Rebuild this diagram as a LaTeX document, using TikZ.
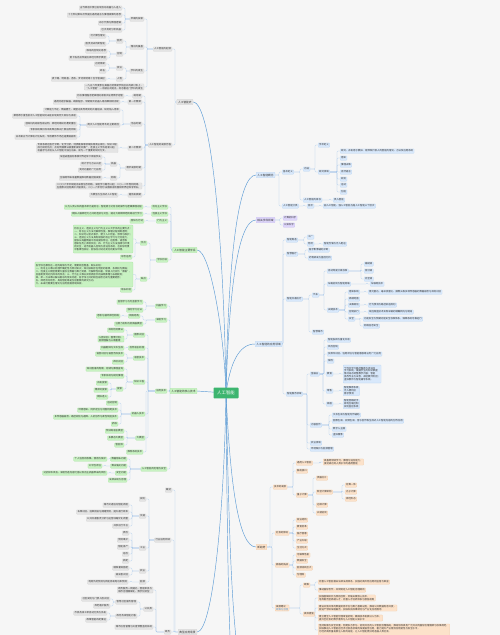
\documentclass[tikz,border=0pt]{standalone}
\usepackage{fontspec}
\setmainfont{Noto Sans CJK SC}

\definecolor{bgc}{HTML}{F6F6F6}
\definecolor{txt}{HTML}{333333}
\definecolor{gfill}{HTML}{E4E4E4}
\definecolor{gdraw}{HTML}{CDCDCD}
\definecolor{nfill}{HTML}{C8F2C2}
\definecolor{ndraw}{HTML}{A3E29C}
\definecolor{bfill}{HTML}{D8E8FB}
\definecolor{bdraw}{HTML}{B3D1F2}
\definecolor{pfill}{HTML}{DDD5FA}
\definecolor{pdraw}{HTML}{C2B5F0}
\definecolor{ofill}{HTML}{FCE2CA}
\definecolor{odraw}{HTML}{F3C79E}
\definecolor{hubc}{HTML}{3DB56F}
\definecolor{lnk}{HTML}{A8C8EC}
\definecolor{crv}{HTML}{5B9BD5}

\newcommand\ft{\fontsize{2.4}{2.95}\selectfont}
\newcommand\fl{\fontsize{2.7}{3.2}\selectfont}
\newcommand\fh{\fontsize{4.4}{5}\selectfont}

\pgfdeclarelayer{bg}
\pgfsetlayers{bg,main}

% left links: children sit to the left of the parent
\newcommand\lk[2]{\foreach \nd in {#2}{\draw[link] (\nd.east) -- ++(3,0) |- (#1.west);}}
% right links: children sit to the right of the parent
\newcommand\rk[2]{\foreach \nd in {#2}{\draw[link] (\nd.west) -- ++(-3,0) |- (#1.east);}}

\begin{document}
\begin{tikzpicture}[x=1pt,y=-1pt,
		box/.style={rectangle, rounded corners=0.6pt, inner xsep=1pt, inner ysep=0.5pt,
			minimum height=4.3pt, font=\ft, text=txt, line width=0.2pt, align=left},
		lg/.style={box, anchor=east, fill=gfill, draw=gdraw},
		ln/.style={box, anchor=east, fill=nfill, draw=ndraw},
		rb/.style={box, anchor=west, fill=bfill, draw=bdraw},
		rp/.style={box, anchor=west, fill=pfill, draw=pdraw},
		ro/.style={box, anchor=west, fill=ofill, draw=odraw},
		lvone/.style={font=\fl, minimum height=5.4pt, inner xsep=1.3pt},
		hub/.style={rectangle, rounded corners=0.8pt, fill=hubc, text=white, font=\fh,
			minimum width=25pt, minimum height=10pt},
		link/.style={draw=lnk, line width=0.3pt, rounded corners=1pt},
		curve/.style={draw=crv, line width=0.45pt}
		]
		\useasboundingbox (0,0) rectangle (500,635);
		\begin{pgfonlayer}{bg}
			\fill[bgc] (0,0) rectangle (500,635);
		\end{pgfonlayer}
		
		% centre
		\node[hub] (ai) at (226,393) {人工智能};
		% branches that run on below the page
		\coordinate (more1) at (256,700);
		\coordinate (more2) at (256,780);
		
		% ---------- history (grey, upper left)
		\node[lg,lvone] (a) at (193,102) {人工智能史};
		\node[lg] (a1) at (172,49) {人工智能的起源};
		\node[lg] (a1a) at (144,19) {早期的探索};
		\node[lg] (a1a1) at (122,8) {古代神话中便已出现自动机器与人造人};
		\node[lg] (a1a2) at (122,15) {十七世纪莱布尼茨提出通用语言与推理演算的思想};
		\node[lg] (a1a3) at (122,23) {布尔代数与数理逻辑};
		\node[lg] (a1a4) at (122,30) {巴贝奇的分析机器};
		\node[lg] (a1b) at (144,47) {理论的奠基};
		\node[lg] (a1b1) at (123,41) {图灵};
		\node[lg] (a1b1a) at (106,36) {可计算性理论};
		\node[lg] (a1b1b) at (106,44) {图灵测试判断智能};
		\node[lg] (a1b2) at (123,54) {控制};
		\node[lg] (a1b2a) at (107,51) {维纳的控制论思想};
		\node[lg] (a1b2b) at (107,58) {麦卡洛克皮茨提出神经元数学模型};
		\node[lg] (a1c) at (144,71) {学科的诞生};
		\node[lg] (a1c1) at (123,68) {会议};
		\node[lg] (a1c1a) at (106,64) {达特茅斯};
		\node[lg] (a1c1b) at (106,71) {命名};
		\node[lg] (a1c2) at (123,79) {人物};
		\node[lg] (a1c2a) at (106,79) {麦卡锡、明斯基、香农、罗切斯特等十位学者发起};
		\node[lg] (a1d) at (144,87) {一九五六年夏季在美国达特茅斯学院召开的研讨会上，\\“人工智能”一词被正式提出，标志着这门学科的诞生};
		
		\node[lg] (a2) at (172,145) {人工智能的发展历程};
		\node[lg] (a2a) at (142,96) {萌芽期};
		\node[lg] (a2a1) at (124,96) {符号推理程序逻辑理论家首次证明数学定理};
		\node[lg] (a2b) at (142,102) {第一次繁荣};
		\node[lg] (a2b1) at (120,102) {通用问题求解器、跳棋程序、早期聊天机器人等成果相继出现};
		\node[lg] (a2c) at (142,124) {低谷时期};
		\node[lg] (a2c1) at (120,110) {计算能力不足、数据匮乏、期望过高导致资助大幅削减，研究陷入停滞};
		\node[lg] (a2c2) at (120,125) {两次人工智能寒冬的主要原因};
		\node[lg] (a2c2a) at (77,116) {莱特希尔报告批评人工智能研究未能实现其宏大目标与承诺};
		\node[lg] (a2c2b) at (77,124) {感知机的局限性被证明，神经网络研究遭受重创};
		\node[lg] (a2c2c) at (77,130) {专家系统维护成本高昂且难以扩展应用领域};
		\node[lg] (a2c2d) at (77,137) {日本第五代计算机计划失败，专用硬件市场迅速萎缩崩溃};
		\node[lg] (a2d) at (142,148) {第二次繁荣};
		\node[lg] (a2d1) at (118,148) {专家系统在医疗诊断、化学分析、地质勘探等领域获得商业成功，知识工程\\成为研究热点；反向传播算法被重新发现并推广，连接主义学派逐渐兴起，\\机器学习开始从人工智能中独立出来，成为一个重要的研究分支。};
		\node[lg] (a2e) at (142,168) {稳步发展时期};
		\node[lg] (a2e1) at (117,164) {机器};
		\node[lg] (a2e1a) at (102,157) {深蓝战胜国际象棋世界冠军卡斯帕罗夫};
		\node[lg] (a2e1b) at (102,164) {统计学习方法兴起};
		\node[lg] (a2e1c) at (102,170) {支持向量机广泛应用};
		\node[lg] (a2e2) at (117,178) {网络};
		\node[lg] (a2e2a) at (102,178) {互联网带来海量数据推动数据挖掘发展};
		\node[lg] (a2f) at (142,186) {二〇〇六年辛顿提出深度信念网络，深度学习概念兴起；二〇一二年卷积网络\\在图像识别竞赛中大幅领先，二〇一六年阿尔法围棋击败围棋世界冠军李世石。};
		\node[lg] (a2g) at (142,195) {蓬勃发展期};
		\node[lg] (a2g1) at (118,195) {大模型与生成式人工智能};
		
		% ---------- schools (green)
		\node[ln,lvone] (b) at (197,250) {人工智能主要学派};
		\node[ln] (b1) at (168,207) {符号主义学派};
		\node[ln] (b1a) at (143,207) {认为人类认知的基本单元是符号，智能源于对符号的操作与逻辑推理过程};
		\node[ln] (b2) at (168,214) {连接主义学派};
		\node[ln] (b2a) at (143,214) {模拟人脑神经元之间的连接与交互，通过大规模神经网络进行学习};
		\node[ln] (b3) at (168,221) {行为主义};
		\node[ln] (b3a) at (144,221) {感知与行动};
		\node[ln] (b4) at (168,260) {学派比较};
		\node[ln] (b4a) at (147,243) {优点};
		\node[ln, minimum height=28pt] (b4a1) at (133,239) {符号主义、连接主义与行为主义三大学派的主要优点：\\一、符号主义方法可解释性强，推理过程清晰透明；\\二、知识可以显式表示，便于人工检查、修改与维护；\\三、连接主义方法具有很强的自主学习与泛化能力，\\能够从海量数据中自动提取特征，在图像、语音等\\感知任务上表现突出；四、行为主义方法强调与环境\\的交互，适合机器人控制与自适应系统，在实际场景\\中鲁棒性较好，能够应对动态变化的复杂环境。};
		\node[ln] (b4a2) at (132,257) {综合运用};
		\node[ln] (b4b) at (147,279) {缺点};
		\node[ln, minimum height=25pt] (b4b1) at (133,274.5) {各学派也都存在一定的局限与不足，需要相互借鉴、取长补短：\\一、符号主义难以处理不确定性与常识知识，知识获取存在明显的瓶颈，系统较为脆弱；\\二、连接主义模型需要大量标注数据与算力资源，可解释性较差，常被人们视为“黑箱”，\\且容易受到对抗样本的攻击；三、行为主义难以实现高层次的抽象推理与长期规划；\\四、单一方法难以解决复杂的现实问题，各学派之间的相互融合已成为重要趋势；\\五、神经符号结合、具身智能等是当前重要的研究方向。\\六、未来仍需要在理论与应用层面持续探索。};
		\node[ln] (b4b2) at (132,290) {取长补短};
		
		% ---------- core techniques (green)
		\node[ln,lvone] (c) at (197,391) {人工智能的核心技术};
		\node[ln] (c1) at (167,306) {机器学习};
		\node[ln] (c1a) at (143,302) {监督学习与无监督学习};
		\node[ln] (c1b) at (143,310) {强化学习方法};
		\node[ln] (c2) at (167,320) {深度学习};
		\node[ln] (c2a) at (140,316) {网络结构};
		\node[ln] (c2a1) at (120,316) {卷积与循环神经网络};
		\node[ln] (c2b) at (143,324) {注意力机制与变换器模型};
		\node[ln] (c3) at (167,391) {应用技术};
		\node[ln] (c3a) at (145,335) {图像识别};
		\node[ln] (c3a1) at (124,330) {目标检测算法};
		\node[ln] (c3a2) at (124,339) {人脸识别、图像分割、\\视频理解与三维重建};
		\node[ln] (c3b) at (145,348) {自然语言处理};
		\node[ln] (c3b1) at (124,348) {机器翻译与文本生成};
		\node[ln] (c3c) at (145,358) {语音技术};
		\node[ln] (c3c1) at (124,354) {语音识别与语音合成技术};
		\node[ln] (c3c2) at (124,362) {声纹识别};
		\node[ln] (c3d) at (145,382) {知识工程};
		\node[ln] (c3d1) at (124,369) {知识图谱的构建、存储与推理查询};
		\node[ln] (c3d2) at (124,376) {专家系统与规则推理};
		\node[ln] (c3d3) at (123,389) {搜索};
		\node[ln] (c3d3a) at (108,383) {启发搜索};
		\node[ln] (c3d3b) at (108,390) {博弈树搜索};
		\node[ln] (c3d3c) at (108,397) {模拟退火};
		\node[ln] (c3e) at (145,414) {机器人技术};
		\node[ln] (c3e1) at (118,403) {运动控制};
		\node[ln] (c3e2) at (118,410) {环境感知、同步定位与地图构建技术};
		\node[ln] (c3e3) at (118,417) {多传感器融合、路径规划与避障、人机协作与柔性制造技术};
		\node[ln] (c3e4) at (118,424) {抓取};
		\node[ln] (c3f) at (145,438) {大模型};
		\node[ln] (c3f1) at (124,431) {预训练语言模型};
		\node[ln] (c3f2) at (124,438) {多模态大模型};
		\node[ln] (c3f3) at (124,445) {智能体};
		\node[ln] (c3g) at (143,452) {推荐系统技术};
		\node[ln] (c4) at (167,469) {人工智能的伦理与安全};
		\node[ln] (c4a) at (127,459) {数据隐私问题};
		\node[ln] (c4a1) at (107,459) {个人信息的收集、使用与保护};
		\node[ln] (c4b) at (127,466) {算法偏见问题};
		\node[ln] (c4b1) at (102,466) {公平性评估};
		\node[ln] (c4c) at (127,473) {安全问题};
		\node[ln] (c4c1) at (107,473) {对抗样本攻击、深度伪造内容泛滥以及自主武器带来的风险};
		\node[ln] (c4d) at (127,480) {法律法规与治理};
		
		% ---------- applications (grey, lower left)
		\node[lg,lvone] (d) at (197,632) {典型应用场景};
		\node[lg] (d1) at (172,490) {概述};
		\node[lg] (d2) at (171,540) {行业应用领域};
		\node[lg] (d2a) at (146,499) {安防};
		\node[lg] (d2b) at (146,516) {交通};
		\node[lg] (d2b1) at (129,505) {城市交通信号智能调度};
		\node[lg] (d2b2) at (129,512) {车牌识别、违章抓拍与拥堵预测，提升通行效率};
		\node[lg] (d2b3) at (129,519) {公共交通客流分析与运营线路优化调整};
		\node[lg] (d2b4) at (129,526) {共享出行平台};
		\node[lg] (d2c) at (146,548) {工业};
		\node[lg] (d2c1) at (129,533) {质检};
		\node[lg] (d2c2) at (129,540) {预测维护};
		\node[lg] (d2c3) at (129,547) {智能排产};
		\node[lg] (d2c4) at (129,554) {巡检};
		\node[lg] (d2c5) at (129,561) {装配};
		\node[lg] (d2d) at (146,571) {农业};
		\node[lg] (d2d1) at (129,568) {精准灌溉施肥};
		\node[lg] (d2d2) at (129,575) {病虫害识别};
		\node[lg] (d2e) at (146,582) {能源};
		\node[lg] (d2e1) at (128,582) {电网负荷预测与新能源发电功率预测};
		\node[lg] (d3) at (171,632) {政务};
		\node[lg] (d3a) at (153,590) {政务服务一网通办，智能审批与\\城市治理精细化、数字化转型};
		\node[lg] (d3b) at (153,609) {公共类};
		\node[lg] (d3b1) at (137,602) {智慧社区服务管理};
		\node[lg] (d3b1a) at (110,599) {社区安防与门禁人脸识别};
		\node[lg] (d3b1b) at (110,606) {养老看护服务};
		\node[lg] (d3b2) at (137,616) {政务热线智能问答};
		\node[lg] (d3b2a) at (107,613) {市民热线工单自动分类与派发};
		\node[lg] (d3b2b) at (107,620) {政策智能匹配推送};
		\node[lg] (d3c) at (153,627) {城市应急管理与灾害预警监测系统};
		
		% ---------- concept (blue, upper right)
		\node[rb,lvone] (e) at (256,175) {人工智能概念};
		\node[rb] (e1) at (282,172) {基本定义};
		\node[rb] (e1a) at (303,169) {内涵};
		\node[rb] (e1a1) at (318,145) {学术定义};
		\node[rb] (e1a2) at (318,172) {研究领域};
		\node[rb] (e1a2a) at (340,151) {研究、开发用于模拟、延伸和扩展人的智能的理论、方法及应用系统};
		\node[rb] (e1a2b) at (340,158) {感知};
		\node[rb] (e1a2c) at (340,165) {推理决策};
		\node[rb] (e1a2d) at (340,172) {自然语言};
		\node[rb] (e1a2e) at (340,179) {规划};
		\node[rb] (e1a2f) at (340,185) {运动};
		\node[rb] (e1a2g) at (340,192) {创造};
		\node[rb] (e1b) at (303,200) {人工智能的目标};
		\node[rb] (e1b1) at (333,200) {类人智能};
		\node[rb] (e2) at (282,206) {人工智能分类};
		\node[rb] (e2a) at (307,206) {层次};
		\node[rb] (e2a1) at (323,206) {弱人工智能、强人工智能与超人工智能三个层次};
		
		% ---------- related fields (purple)
		\node[rp,lvone] (f) at (256,220) {相关学科领域};
		\node[rp] (f1) at (283,218) {计算机科学};
		\node[rp] (f2) at (283,225) {认知科学};
		
		% ---------- fields of use (blue)
		\node[rb,lvone] (g) at (255,344) {人工智能的应用领域};
		\node[rb] (g1) at (286,240) {智能制造};
		\node[rb] (g1a) at (307,237) {工厂};
		\node[rb] (g1b) at (307,244) {物流};
		\node[rb] (g1b1) at (323,244) {智能仓储与无人配送};
		\node[rb] (g2) at (286,254) {智慧医疗};
		\node[rb] (g2a) at (308,250) {医学影像辅助诊断};
		\node[rb] (g2b) at (308,258) {药物研发与基因分析};
		\node[rb] (g3) at (286,299) {智能交通出行};
		\node[rb] (g3a) at (312,295) {汽车};
		\node[rb] (g3a1) at (327,271) {自动驾驶分级标准};
		\node[rb] (g3a1a) at (364,264) {辅助级};
		\node[rb] (g3a1b) at (364,271) {部分级};
		\node[rb] (g3a1c) at (364,279) {完全级};
		\node[rb] (g3a2) at (327,284) {车路协同与智能网联};
		\node[rb] (g3a2a) at (370,284) {车联网技术};
		\node[rb] (g3a3) at (327,310) {关键技术};
		\node[rb] (g3a3a) at (348,292) {感知系统};
		\node[rb] (g3a3a1) at (368,292) {激光雷达、毫米波雷达、摄像头等多种传感器的数据融合与目标识别};
		\node[rb] (g3a3b) at (348,299) {高精地图};
		\node[rb] (g3a3c) at (348,305) {决策规划};
		\node[rb] (g3a3c1) at (368,305) {行为预测与路径轨迹规划};
		\node[rb] (g3a3d) at (348,312) {控制执行};
		\node[rb] (g3a3d1) at (368,312) {线控底盘技术实现车辆的精确转向与制动};
		\node[rb] (g3a3e) at (348,319) {安全};
		\node[rb] (g3a3e1) at (363,319) {功能安全与预期功能安全标准体系，保障系统可靠运行};
		\node[rb] (g3a3e2) at (363,326) {网络信息安全};
		\node[rb] (g3b) at (312,332) {智慧城市};
		\node[rb] (g4) at (286,394) {智能服务领域};
		\node[rb] (g4a) at (310,374) {金融业};
		\node[rb] (g4a1) at (327,340) {智能投顾与量化交易};
		\node[rb] (g4a2) at (327,347) {风险控制};
		\node[rb] (g4a3) at (327,354) {反欺诈识别、信用评估与智能客服等业务广泛应用};
		\node[rb] (g4a4) at (327,361) {保险};
		\node[rb] (g4a5) at (326,374) {教育};
		\node[rb, minimum height=18pt] (g4a5a) at (343,374) {个性化学习路径推荐与自适应\\学习系统，根据学生的知识掌握\\情况动态调整教学内容；智能\\批改作业与试卷，减轻教师负担；\\虚拟教师与智能辅导系统。};
		\node[rb] (g4a6) at (326,391) {零售};
		\node[rb] (g4a6a) at (343,391) {智能推荐系统\\无人便利店\\需求预测};
		\node[rb] (g4a7) at (326,404) {家居};
		\node[rb] (g4a7a) at (343,404) {智能音箱助手\\家电互联控制\\安防监控系统};
		\node[rb] (g4b) at (310,425) {内容创作};
		\node[rb] (g4b1) at (332,415) {文本生成与智能写作辅助};
		\node[rb] (g4b2) at (332,421) {图像生成、视频生成、音乐创作等生成式人工智能内容的创作应用};
		\node[rb] (g4b3) at (332,429) {数字人主播};
		\node[rb] (g4b4) at (332,435) {虚拟偶像};
		\node[rb] (g4c) at (310,443) {农业领域};
		\node[rb] (g4d) at (310,449) {环境保护与能源管理};
		
		% ---------- outlook (orange)
		\node[ro,lvone] (h) at (256,547) {新趋势};
		\node[ro] (h1) at (273,487) {技术的发展};
		\node[ro] (h1a) at (296,463) {通用人工智能};
		\node[ro] (h1a1) at (323,462) {具备跨领域学习、推理与适应能力，\\接近或达到人类水平的通用智能};
		\node[ro] (h1b) at (296,471) {脑机接口};
		\node[ro] (h1c) at (296,495) {量子计算};
		\node[ro] (h1c1) at (316,478) {类脑芯片};
		\node[ro] (h1c2) at (316,492) {新型计算架构};
		\node[ro] (h1c2a) at (345,485) {存算一体};
		\node[ro] (h1c2b) at (345,492) {光子计算};
		\node[ro] (h1c2c) at (345,499) {神经形态};
		\node[ro] (h1c3) at (316,505) {边缘计算};
		\node[ro] (h1c4) at (316,513) {云端协同};
		\node[ro] (h2) at (275,533) {社会的影响};
		\node[ro] (h2a) at (296,520) {就业结构};
		\node[ro] (h2b) at (296,527) {教育变革};
		\node[ro] (h2c) at (296,534) {医疗普惠};
		\node[ro] (h2d) at (296,541) {产业升级};
		\node[ro] (h2e) at (296,548) {生活方式};
		\node[ro] (h3) at (275,565) {面临的挑战};
		\node[ro] (h3a) at (296,555) {可解释性差};
		\node[ro] (h3b) at (296,561) {数据安全};
		\node[ro] (h3c) at (296,568) {能源消耗巨大};
		\node[ro] (h3d) at (296,575) {伦理观};
		\node[ro] (h4) at (275,608) {发展建议\\\textcolor{crv}{政策与治理}};
		\node[ro] (h4a) at (303,585) {政策};
		\node[ro] (h4a1) at (318,582) {完善人工智能相关法律法规体系，加强对高风险应用的监管与审查};
		\node[ro] (h4a2) at (318,590) {推动国际合作，共同制定人工智能治理规则};
		\node[ro] (h4b) at (303,614) {具体措施};
		\node[ro] (h4b1) at (318,598) {加强基础研究与原始创新，突破关键核心技术，\\培养复合型高端人才，完善人才培养体系与激励机制};
		\node[ro] (h4b2) at (318,608) {建设开放共享的数据资源平台与算力基础设施，推动公共数据有序开放，\\促进产学研深度融合，加快科技成果转化与产业化应用落地};
		\node[ro] (h4b3) at (318,618) {建立健全人工智能伦理审查机制，确保技术发展以人为本，\\提升全社会的数字素养与人工智能认知水平};
		\node[ro] (h4b4) at (318,630) {坚持发展与安全并重，构建多方参与、协同共治的人工智能治理格局，推动形成具有广泛共识的国际治理框架与标准规范，\\加快推进人工智能在经济社会各领域的深度融合应用，着力提升产业链供应链韧性与安全水平，\\为经济高质量发展注入新的动能，让人工智能更好地造福人类社会。\\};
		
		\begin{pgfonlayer}{bg}
			% main branches
			\draw[curve] (ai.center) .. controls (224,250) and (212,102) .. (a.east);
			\draw[curve] (ai.center) .. controls (224,330) and (210,250) .. (b.east);
			\draw[curve] (ai.center) -- (c.east);
			\draw[curve] (ai.center) .. controls (224,520) and (212,632) .. (d.east);
			\draw[curve] (ai.center) .. controls (228,260) and (238,175) .. (e.west);
			\draw[curve] (ai.center) .. controls (229,290) and (238,220) .. (f.west);
			\draw[curve] (ai.center) .. controls (230,365) and (238,344) .. (g.west);
			\draw[curve] (ai.center) .. controls (230,480) and (238,547) .. (h.west);
			\draw[curve] (ai.center) .. controls (230,560) and (232,700) .. (more1);
			\draw[curve] (ai.center) .. controls (228,600) and (228,780) .. (more2);
			
			% grey, upper left
			\lk{a}{a1,a2}
			\lk{a1}{a1a,a1b,a1c,a1d}
			\lk{a1a}{a1a1,a1a2,a1a3,a1a4}
			\lk{a1b}{a1b1,a1b2}
			\lk{a1b1}{a1b1a,a1b1b}
			\lk{a1b2}{a1b2a,a1b2b}
			\lk{a1c}{a1c1,a1c2}
			\lk{a1c1}{a1c1a,a1c1b}
			\lk{a1c2}{a1c2a}
			\lk{a2}{a2a,a2b,a2c,a2d,a2e,a2f,a2g}
			\lk{a2a}{a2a1}
			\lk{a2b}{a2b1}
			\lk{a2c}{a2c1,a2c2}
			\lk{a2c2}{a2c2a,a2c2b,a2c2c,a2c2d}
			\lk{a2d}{a2d1}
			\lk{a2e}{a2e1,a2e2}
			\lk{a2e1}{a2e1a,a2e1b,a2e1c}
			\lk{a2e2}{a2e2a}
			\lk{a2g}{a2g1}
			
			% green
			\lk{b}{b1,b2,b3,b4}
			\lk{b1}{b1a}
			\lk{b2}{b2a}
			\lk{b3}{b3a}
			\lk{b4}{b4a,b4b}
			\lk{b4a}{b4a1,b4a2}
			\lk{b4b}{b4b1,b4b2}
			\lk{c}{c1,c2,c3,c4}
			\lk{c1}{c1a,c1b}
			\lk{c2}{c2a,c2b}
			\lk{c2a}{c2a1}
			\lk{c3}{c3a,c3b,c3c,c3d,c3e,c3f,c3g}
			\lk{c3a}{c3a1,c3a2}
			\lk{c3b}{c3b1}
			\lk{c3c}{c3c1,c3c2}
			\lk{c3d}{c3d1,c3d2,c3d3}
			\lk{c3d3}{c3d3a,c3d3b,c3d3c}
			\lk{c3e}{c3e1,c3e2,c3e3,c3e4}
			\lk{c3f}{c3f1,c3f2,c3f3}
			\lk{c4}{c4a,c4b,c4c,c4d}
			\lk{c4a}{c4a1}
			\lk{c4b}{c4b1}
			\lk{c4c}{c4c1}
			
			% grey, lower left
			\lk{d}{d1,d2,d3}
			\lk{d2}{d2a,d2b,d2c,d2d,d2e}
			\lk{d2b}{d2b1,d2b2,d2b3,d2b4}
			\lk{d2c}{d2c1,d2c2,d2c3,d2c4,d2c5}
			\lk{d2d}{d2d1,d2d2}
			\lk{d2e}{d2e1}
			\lk{d3}{d3a,d3b,d3c}
			\lk{d3b}{d3b1,d3b2}
			\lk{d3b1}{d3b1a,d3b1b}
			\lk{d3b2}{d3b2a,d3b2b}
			
			% right side
			\rk{e}{e1,e2}
			\rk{e1}{e1a,e1b}
			\rk{e1a}{e1a1,e1a2}
			\rk{e1a2}{e1a2a,e1a2b,e1a2c,e1a2d,e1a2e,e1a2f,e1a2g}
			\rk{e1b}{e1b1}
			\rk{e2}{e2a}
			\rk{e2a}{e2a1}
			\rk{f}{f1,f2}
			\rk{g}{g1,g2,g3,g4}
			\rk{g1}{g1a,g1b}
			\rk{g1b}{g1b1}
			\rk{g2}{g2a,g2b}
			\rk{g3}{g3a,g3b}
			\rk{g3a}{g3a1,g3a2,g3a3}
			\rk{g3a1}{g3a1a,g3a1b,g3a1c}
			\rk{g3a2}{g3a2a}
			\rk{g3a3}{g3a3a,g3a3b,g3a3c,g3a3d,g3a3e}
			\rk{g3a3a}{g3a3a1}
			\rk{g3a3c}{g3a3c1}
			\rk{g3a3d}{g3a3d1}
			\rk{g3a3e}{g3a3e1,g3a3e2}
			\rk{g4}{g4a,g4b,g4c,g4d}
			\rk{g4a}{g4a1,g4a2,g4a3,g4a4,g4a5,g4a6,g4a7}
			\rk{g4a5}{g4a5a}
			\rk{g4a6}{g4a6a}
			\rk{g4a7}{g4a7a}
			\rk{g4b}{g4b1,g4b2,g4b3,g4b4}
			\rk{h}{h1,h2,h3,h4}
			\rk{h1}{h1a,h1b,h1c}
			\rk{h1a}{h1a1}
			\rk{h1c}{h1c1,h1c2,h1c3,h1c4}
			\rk{h1c2}{h1c2a,h1c2b,h1c2c}
			\rk{h2}{h2a,h2b,h2c,h2d,h2e}
			\rk{h3}{h3a,h3b,h3c,h3d}
			\rk{h4}{h4a,h4b}
			\rk{h4a}{h4a1,h4a2}
			\rk{h4b}{h4b1,h4b2,h4b3,h4b4}
		\end{pgfonlayer}
	\end{tikzpicture}
\end{document}
